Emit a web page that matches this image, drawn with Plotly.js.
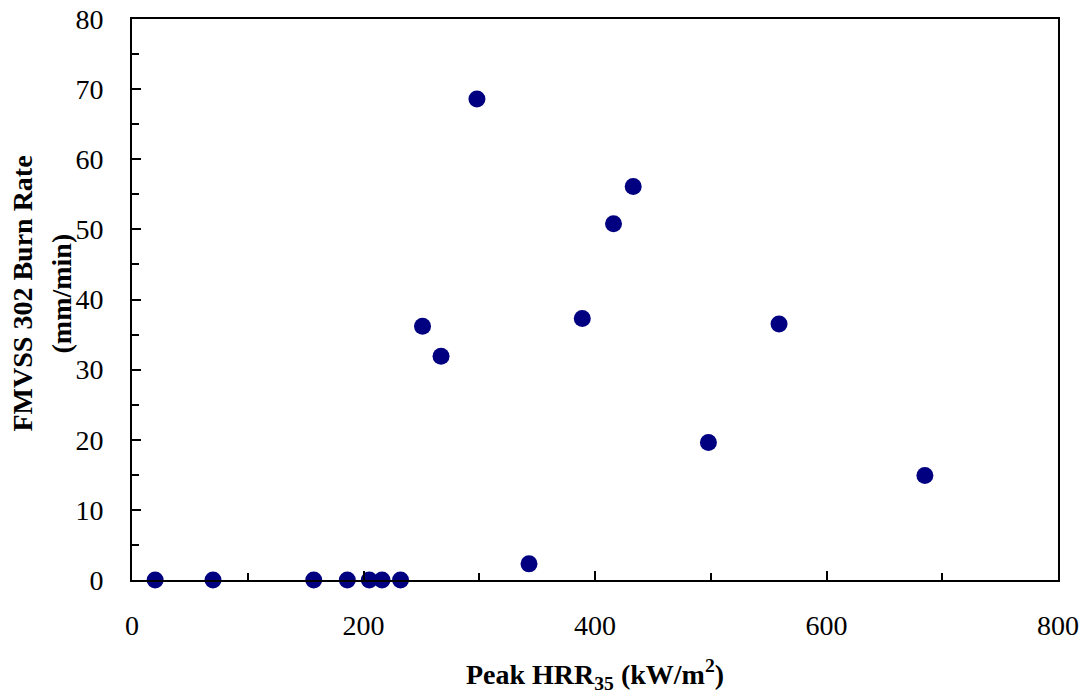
<!DOCTYPE html>
<html>
<head>
<meta charset="utf-8">
<script src="https://cdn.plot.ly/plotly-3.0.1.min.js"></script>
<style>html,body{margin:0;padding:0;background:#fff;}#chart{width:1085px;height:694px;}</style>
</head>
<body>
<div id="chart"></div>
<script>
const peakHRR = [20, 70, 157, 186, 205, 216, 232, 251, 267, 298, 343, 389, 416, 433, 498, 559, 685];
const burnRate = [0, 0, 0, 0, 0, 0, 0, 36.2, 31.9, 68.6, 2.3, 37.3, 50.8, 56.1, 19.6, 36.5, 14.9];
const xTitle = 'Peak HRR<sub>35</sub> (kW/m<sup>2</sup>)';
const yTitleLines = ['FMVSS 302 Burn Rate', '(mm/min)'];

const font = {family: 'Liberation Serif, Times New Roman, serif', color: '#000'};
const titleFont = Object.assign({size: 28, weight: 'bold'}, font);

const trace = {
  x: peakHRR, y: burnRate, type: 'scatter', mode: 'markers',
  marker: {color: '#000080', size: 17, line: {width: 0}},
  cliponaxis: false
};

const layout = {
  width: 1085, height: 694,
  margin: {l: 132, r: 27, t: 19, b: 114},
  paper_bgcolor: '#fff', plot_bgcolor: '#fff',
  showlegend: false,
  font: Object.assign({size: 28}, font),
  xaxis: {
    range: [0, 800], dtick: 200, tick0: 0,
    showgrid: false, zeroline: false,
    showline: true, linecolor: '#000', linewidth: 2, mirror: true,
    ticks: 'inside', ticklen: 9, tickwidth: 2, tickcolor: '#000',
    minor: {dtick: 100, ticks: 'inside', ticklen: 7, tickwidth: 2, tickcolor: '#000'},
    ticklabelstandoff: 19,
    tickfont: Object.assign({size: 28}, font),
    title: {text: xTitle, font: titleFont, standoff: 27}
  },
  yaxis: {
    range: [0, 80], dtick: 10, tick0: 0,
    showgrid: false, zeroline: false,
    showline: true, linecolor: '#000', linewidth: 2, mirror: true,
    ticks: 'inside', ticklen: 9, tickwidth: 2, tickcolor: '#000',
    minor: {dtick: 5, ticks: 'inside', ticklen: 7, tickwidth: 2, tickcolor: '#000'},
    ticklabelstandoff: 21,
    tickfont: Object.assign({size: 28}, font)
  },
  annotations: [
    {text: yTitleLines[0], xref: 'paper', yref: 'paper', x: 0, y: 0.5, xanchor: 'center', yanchor: 'middle',
     xshift: -110, yshift: 6, textangle: -90, showarrow: false, font: titleFont},
    {text: yTitleLines[1], xref: 'paper', yref: 'paper', x: 0, y: 0.5, xanchor: 'center', yanchor: 'middle',
     xshift: -71, yshift: 6, textangle: -90, showarrow: false, font: titleFont}
  ]
};

Plotly.newPlot('chart', [trace], layout, {displayModeBar: false, staticPlot: true});
</script>
</body>
</html>
